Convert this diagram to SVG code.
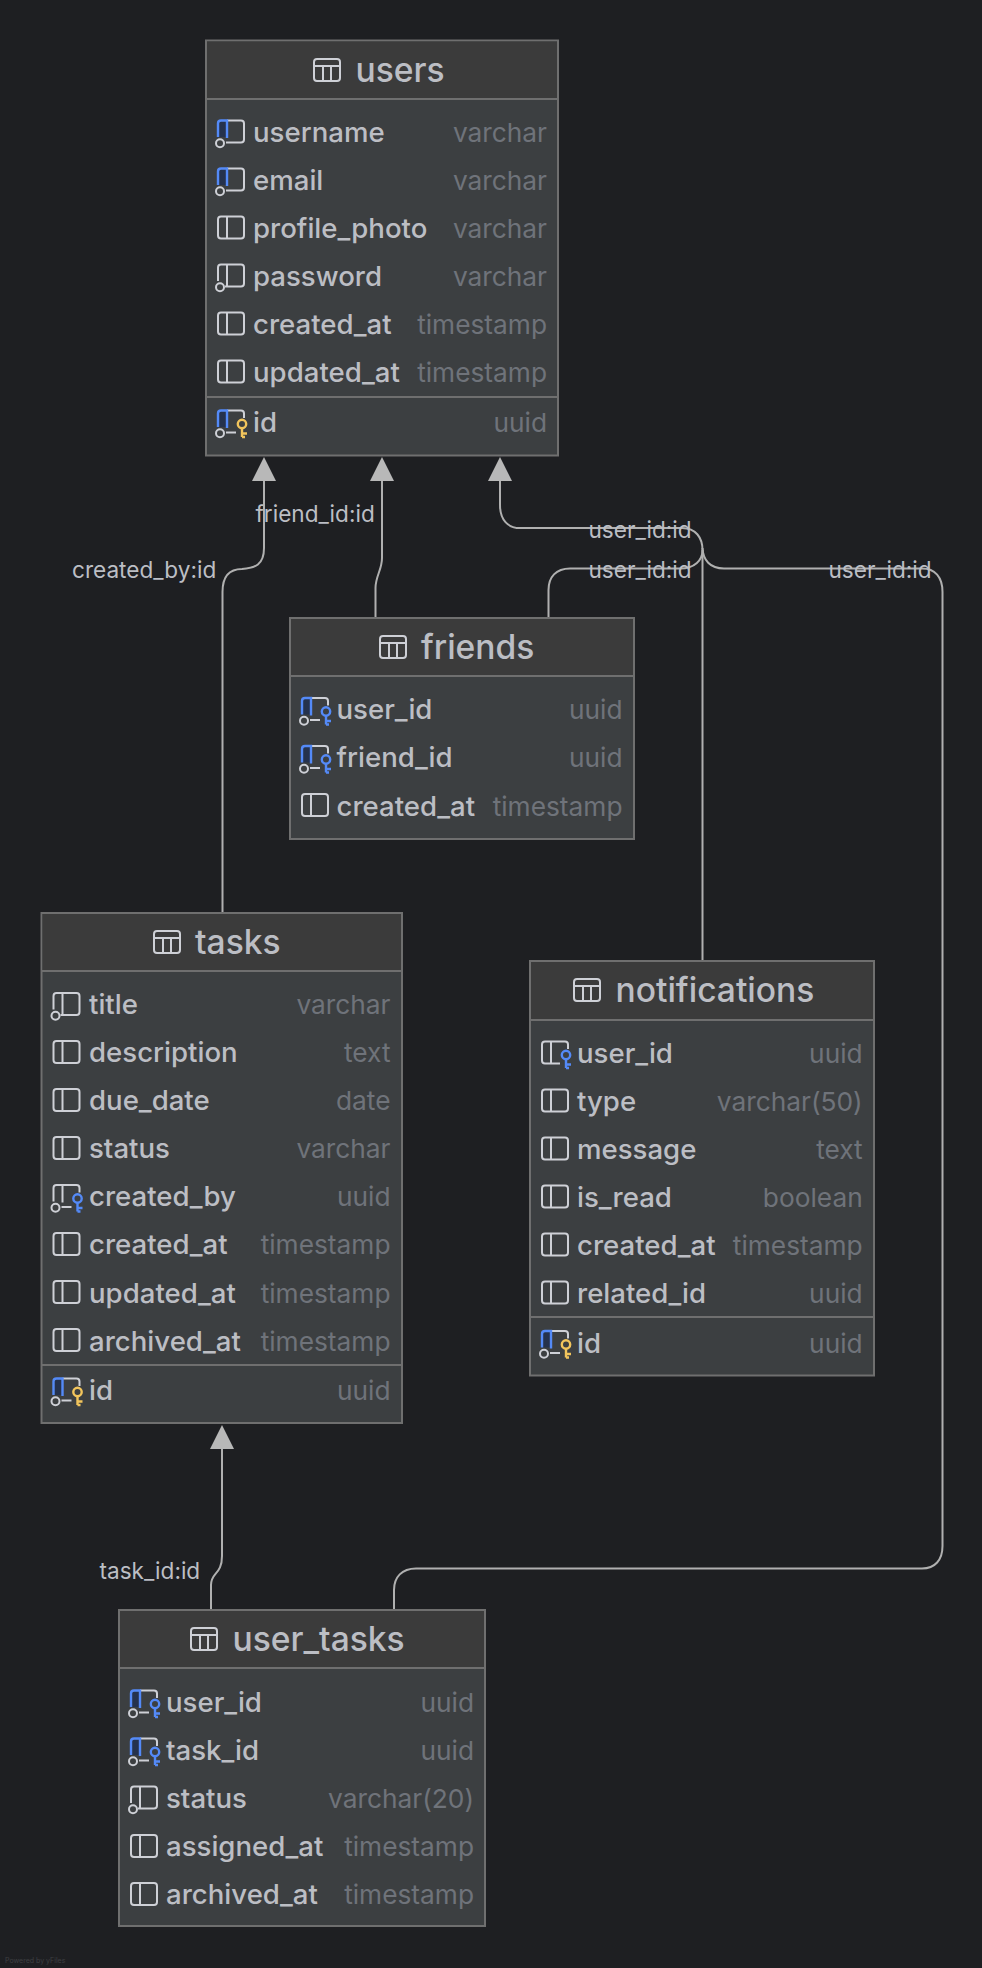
<svg xmlns="http://www.w3.org/2000/svg" width="982" height="1968" viewBox="0 0 982 1968">
<style>
.box{fill:#3c3f41;stroke:#6f6f6f;stroke-width:2}
.hd{fill:#3b3b3b}
.sep{stroke:#6f6f6f;stroke-width:2;fill:none}
.t{font-family:Inter,"Liberation Sans",sans-serif;font-size:33.6px;font-weight:500;fill:#bcbec4}
.f{font-family:Inter,"Liberation Sans",sans-serif;font-size:27.6px;font-weight:500;fill:#bcbec4}
.y{font-family:Inter,"Liberation Sans",sans-serif;font-size:26.3px;fill:#6f737a;text-anchor:end}
.l{font-family:Inter,"Liberation Sans",sans-serif;font-size:22.6px;fill:#bcbec4}
.w{font-family:Inter,"Liberation Sans",sans-serif;font-size:7px;fill:#3f4043}
.c{fill:none;stroke:#b0b0b0;stroke-width:2}
.g{fill:none;stroke:#ced0d6;stroke-width:2}
.b{fill:none;stroke:#548af7;stroke-width:2.4}
.d{fill:#25324d;stroke:none}
.ky{fill:none;stroke:#f2c55c;stroke-width:2.4}
.kb{fill:none;stroke:#548af7;stroke-width:2.4}
</style>
<defs>
<marker id="arr" viewBox="0 0 24 24" markerUnits="userSpaceOnUse" markerWidth="24" markerHeight="24" refX="0" refY="12" orient="auto"><path d="M0 0L24 12L0 24Z" fill="#b8b8b8"/></marker>
<g id="tbl"><rect x="1" y="1" width="26" height="22" rx="3" class="g"/><path d="M1 8H27M10 8V23M18 8V23" class="g"/></g>
<g id="plain"><rect x="1" y="-11.5" width="26" height="22" rx="3" class="g"/><path d="M10 -11.5V10.5" class="g"/></g>
<g id="nn"><path d="M10 -11.5V10.5M1 4V-8.5Q1 -11.5 4 -11.5H24Q27 -11.5 27 -8.5V7.5Q27 10.5 24 10.5H8M1 -8.5V5" class="g"/><circle cx="3" cy="11.3" r="4" class="g"/></g>
<g id="un"><path d="M2 -10.5H10V5H2Z" class="d"/><path d="M10 -11.5H24Q27 -11.5 27 -8.5V7.5Q27 10.5 24 10.5H9" class="g"/><path d="M1 5V-8.5Q1 -11.5 4 -11.5H10V6" class="b"/><circle cx="3" cy="11.3" r="4" class="g"/></g>
<g id="pk"><path d="M2 -10.5H10V5H2Z" class="d"/><path d="M10 -11.5H24Q27 -11.5 27 -8.5V-4M9 10.5H19" class="g"/><path d="M1 5V-8.5Q1 -11.5 4 -11.5H10V6" class="b"/><circle cx="3" cy="11.3" r="4" class="g"/><circle cx="25" cy="2" r="4.2" class="ky"/><path d="M25 6.5V15M25 11.5H30M25 15H28" class="ky"/></g>
<g id="fku"><path d="M2 -10.5H10V5H2Z" class="d"/><path d="M10 -11.5H24Q27 -11.5 27 -8.5V-4M9 10.5H19" class="g"/><path d="M1 5V-8.5Q1 -11.5 4 -11.5H10V6" class="b"/><circle cx="3" cy="11.3" r="4" class="g"/><circle cx="25" cy="2" r="4.2" class="kb"/><path d="M25 6.5V15M25 11.5H30M25 15H28" class="kb"/></g>
<g id="fkn"><path d="M10 -11.5V6M1 5V-8.5Q1 -11.5 4 -11.5H24Q27 -11.5 27 -8.5V-4M9 10.5H19" class="g"/><circle cx="3" cy="11.3" r="4" class="g"/><circle cx="25" cy="2" r="4.2" class="kb"/><path d="M25 6.5V15M25 11.5H30M25 15H28" class="kb"/></g>
<g id="fk"><path d="M10 -11.5V10.5M1 -8.5Q1 -11.5 4 -11.5H24Q27 -11.5 27 -8.5V-4M19 10.5H4Q1 10.5 1 7.5V-8.5" class="g"/><circle cx="25" cy="2" r="4.2" class="kb"/><path d="M25 6.5V15M25 11.5H30M25 15H28" class="kb"/></g>
</defs>
<rect width="982" height="1968" fill="#1e1f22"/>
<g id="connectors">
<path class="c" marker-end="url(#arr)" d="M222.500 913V592C222.500 575 230 569 242 569C255 568 264 565 264 548V481"/>
<path class="c" marker-end="url(#arr)" d="M375.500 618V588C375.500 576 382 570 382 558V481"/>
<path class="c" marker-end="url(#arr)" d="M702.500 961V550C702.500 538 696 528 682 528H520C508 528 500 520 500 505V481"/>
<path class="c" d="M548.500 618V590C548.500 577 556 568.500 570 568.500H680C695 568.500 702.500 560 702.500 550"/>
<path class="c" d="M702.500 548C703 560 710 568.500 724 568.500H922C935 568.500 942.500 577 942.500 592V1546C942.500 1560 935 1568.500 922 1568.500H416C402 1568.500 394 1577 394 1590V1610"/>
<path class="c" marker-end="url(#arr)" d="M211 1610V1585C211 1572 222 1575 222 1556V1449"/>
<text class="l" x="72" y="578">created_by:id</text>
<text class="l" x="255.500" y="522">friend_id:id</text>
<text class="l" x="588.500" y="538">user_id:id</text>
<text class="l" x="588.500" y="578">user_id:id</text>
<text class="l" x="828.500" y="578">user_id:id</text>
<text class="l" x="99.500" y="1579">task_id:id</text>
</g>
<g id="users">
<rect class="box" x="206" y="40.500" width="352" height="415"/>
<rect class="hd" x="207" y="41.500" width="350" height="57"/>
<path class="sep" d="M206 99H558M206 397H558"/>
<use href="#tbl" x="313" y="58"/>
<text class="t" x="355.500" y="81.500">users</text>
<use href="#un" x="217" y="132"/><text class="f" x="253" y="141.500">username</text><text class="y" x="547" y="141.500">varchar</text>
<use href="#un" x="217" y="180"/><text class="f" x="253" y="189.500">email</text><text class="y" x="547" y="189.500">varchar</text>
<use href="#plain" x="217" y="228"/><text class="f" x="253" y="237.500">profile_photo</text><text class="y" x="547" y="237.500">varchar</text>
<use href="#nn" x="217" y="276"/><text class="f" x="253" y="285.500">password</text><text class="y" x="547" y="285.500">varchar</text>
<use href="#plain" x="217" y="324"/><text class="f" x="253" y="333.500">created_at</text><text class="y" x="547" y="333.500">timestamp</text>
<use href="#plain" x="217" y="372"/><text class="f" x="253" y="381.500">updated_at</text><text class="y" x="547" y="381.500">timestamp</text>
<use href="#pk" x="217" y="422"/><text class="f" x="253" y="431.700">id</text><text class="y" x="547" y="431.700">uuid</text>
</g>
<g id="friends">
<rect class="box" x="290" y="618" width="344" height="221"/>
<rect class="hd" x="291" y="619" width="342" height="56"/>
<path class="sep" d="M290 676H634"/>
<use href="#tbl" x="379" y="635"/>
<text class="t" x="421" y="659">friends</text>
<use href="#fku" x="301" y="709.500"/><text class="f" x="336.500" y="719">user_id</text><text class="y" x="622.500" y="719">uuid</text>
<use href="#fku" x="301" y="757.500"/><text class="f" x="336.500" y="767">friend_id</text><text class="y" x="622.500" y="767">uuid</text>
<use href="#plain" x="301" y="805.500"/><text class="f" x="336.500" y="815.500">created_at</text><text class="y" x="622.500" y="815.500">timestamp</text>
</g>
<g id="tasks">
<rect class="box" x="41.500" y="913" width="360.500" height="510"/>
<rect class="hd" x="42.500" y="914" width="358.500" height="56"/>
<path class="sep" d="M41.500 971H402M41.500 1365H402"/>
<use href="#tbl" x="153" y="930"/>
<text class="t" x="195" y="954">tasks</text>
<use href="#nn" x="52.500" y="1004.500"/><text class="f" x="89" y="1014">title</text><text class="y" x="390.500" y="1014">varchar</text>
<use href="#plain" x="52.500" y="1052.500"/><text class="f" x="89" y="1062">description</text><text class="y" x="390.500" y="1062">text</text>
<use href="#plain" x="52.500" y="1100.500"/><text class="f" x="89" y="1110">due_date</text><text class="y" x="390.500" y="1110">date</text>
<use href="#plain" x="52.500" y="1148.500"/><text class="f" x="89" y="1158">status</text><text class="y" x="390.500" y="1158">varchar</text>
<use href="#fkn" x="52.500" y="1196.500"/><text class="f" x="89" y="1206">created_by</text><text class="y" x="390.500" y="1206">uuid</text>
<use href="#plain" x="52.500" y="1244.500"/><text class="f" x="89" y="1254">created_at</text><text class="y" x="390.500" y="1254">timestamp</text>
<use href="#plain" x="52.500" y="1292.500"/><text class="f" x="89" y="1302.500">updated_at</text><text class="y" x="390.500" y="1302.500">timestamp</text>
<use href="#plain" x="52.500" y="1340.500"/><text class="f" x="89" y="1350.500">archived_at</text><text class="y" x="390.500" y="1350.500">timestamp</text>
<use href="#pk" x="52.500" y="1390"/><text class="f" x="89" y="1400">id</text><text class="y" x="390.500" y="1400">uuid</text>
</g>
<g id="notifications">
<rect class="box" x="530" y="961" width="344" height="414.500"/>
<rect class="hd" x="531" y="962" width="342" height="57"/>
<path class="sep" d="M530 1020H874M530 1317H874"/>
<use href="#tbl" x="573" y="978"/>
<text class="t" x="615.500" y="1002">notifications</text>
<use href="#fk" x="541" y="1053"/><text class="f" x="577" y="1062.500">user_id</text><text class="y" x="862.700" y="1062.500">uuid</text>
<use href="#plain" x="541" y="1101"/><text class="f" x="577" y="1110.500">type</text><text class="y" x="862.700" y="1110.500">varchar(50)</text>
<use href="#plain" x="541" y="1149"/><text class="f" x="577" y="1158.500">message</text><text class="y" x="862.700" y="1158.500">text</text>
<use href="#plain" x="541" y="1197"/><text class="f" x="577" y="1206.500">is_read</text><text class="y" x="862.700" y="1206.500">boolean</text>
<use href="#plain" x="541" y="1245"/><text class="f" x="577" y="1254.500">created_at</text><text class="y" x="862.700" y="1254.500">timestamp</text>
<use href="#plain" x="541" y="1293"/><text class="f" x="577" y="1302.500">related_id</text><text class="y" x="862.700" y="1302.500">uuid</text>
<use href="#pk" x="541" y="1342.500"/><text class="f" x="577" y="1352.500">id</text><text class="y" x="862.700" y="1352.500">uuid</text>
</g>
<g id="user_tasks">
<rect class="box" x="119" y="1610" width="366" height="316"/>
<rect class="hd" x="120" y="1611" width="364" height="56"/>
<path class="sep" d="M119 1668H485"/>
<use href="#tbl" x="190" y="1627"/>
<text class="t" x="232.500" y="1651">user_tasks</text>
<use href="#fku" x="130" y="1702"/><text class="f" x="166" y="1711.500">user_id</text><text class="y" x="474" y="1711.500">uuid</text>
<use href="#fku" x="130" y="1750"/><text class="f" x="166" y="1759.500">task_id</text><text class="y" x="474" y="1759.500">uuid</text>
<use href="#nn" x="130" y="1798"/><text class="f" x="166" y="1807.500">status</text><text class="y" x="474" y="1807.500">varchar(20)</text>
<use href="#plain" x="130" y="1846.500"/><text class="f" x="166" y="1856">assigned_at</text><text class="y" x="474" y="1856">timestamp</text>
<use href="#plain" x="130" y="1894.500"/><text class="f" x="166" y="1904">archived_at</text><text class="y" x="474" y="1904">timestamp</text>
</g>
<text class="w" x="5" y="1963">Powered by yFiles</text>
</svg>
